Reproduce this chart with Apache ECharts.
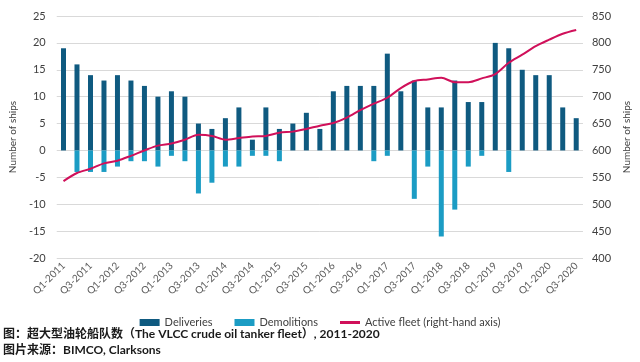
<!DOCTYPE html>
<html><head><meta charset="utf-8">
<script src="https://cdn.jsdelivr.net/npm/echarts@6/dist/echarts.min.js"></script>
<style>html,body{margin:0;padding:0;background:#fff}#c{width:640px;height:362px}</style>
</head><body><div id="c"></div>
<script>
const categories = [];
const years = [2011,2012,2013,2014,2015,2016,2017,2018,2019,2020];
for (const y of years) for (let q = 1; q <= 4; q++) { if (y === 2020 && q === 4) break; categories.push('Q' + q + '-' + y); }
const deliveries = [19,16,14,13,14,13,12,10,11,10,5,4,6,8,2,8,4,5,7,4,11,12,12,12,18,11,13,8,8,13,9,9,20,19,15,14,14,8,6];
const demolitions = [0,-4,-4,-4,-3,-2,-2,-3,-1,-2,-8,-6,-3,-3,-1,-1,-2,0,0,0,0,0,0,-2,-1,0,-9,-3,-16,-11,-3,-1,0,-4,0,0,0,0,0];
const activeFleet = [543,558,566,576,581,590,600,609,613,620,629,627,620,623,626,627,633,635,640,646,651,661,675,687,698,716,729,732,735,727,727,734,742,763,778,794,806,817,824];
const leftTicks = {min:-20, max:25, interval:5};
const rightTicks = {min:400, max:850, interval:50};

const font = 'Lato, "Noto Sans", sans-serif';
const chart = echarts.init(document.getElementById('c'), null, {renderer:'canvas'});
chart.setOption({
  animation:false,
  textStyle:{fontFamily:font},
  grid:{left:43, right:55, top:16, bottom:104, containLabel:false},
  legend:{
    top:312, left:'center', itemGap:22, itemWidth:20, itemHeight:7,
    textStyle:{fontSize:11, color:'#404040', fontFamily:font},
    data:[{name:'Deliveries', icon:'rect'},{name:'Demolitions', icon:'rect'},
          {name:'Active fleet (right-hand axis)', icon:'path://M0,0H20V3H0Z', itemStyle:{color:'#d0105a'}}]
  },
  xAxis:{
    type:'category', data:categories,
    axisLine:{show:false}, axisTick:{show:false},
    axisLabel:{interval:1, rotate:45, fontSize:10, color:'#595959', margin:6, fontFamily:font},
    splitLine:{show:false}
  },
  yAxis:[
    {type:'value', min:leftTicks.min, max:leftTicks.max, interval:leftTicks.interval,
     name:'Number of ships', nameLocation:'middle', nameGap:32, nameRotate:90,
     nameTextStyle:{fontSize:10, color:'#404040', fontFamily:font},
     axisLabel:{fontSize:11, color:'#404040', margin:11, fontFamily:font},
     axisLine:{show:false}, axisTick:{show:false},
     splitLine:{lineStyle:{color:'#d9d9d9', width:1}}},
    {type:'value', min:rightTicks.min, max:rightTicks.max, interval:rightTicks.interval,
     name:'Number of ships', nameLocation:'middle', nameGap:36, nameRotate:90,
     nameTextStyle:{fontSize:10, color:'#404040', fontFamily:font},
     axisLabel:{fontSize:11, color:'#404040', margin:9, fontFamily:font},
     axisLine:{show:false}, axisTick:{show:false},
     splitLine:{show:false}}
  ],
  series:[
    {name:'Deliveries', type:'bar', stack:'s', data:deliveries, barWidth:5, itemStyle:{color:'#0f5a80'}},
    {name:'Demolitions', type:'bar', stack:'s', data:demolitions, barWidth:5, itemStyle:{color:'#1b9cc4'}},
    {name:'Active fleet (right-hand axis)', type:'line', yAxisIndex:1, data:activeFleet, smooth:0.3,
     symbol:'none', lineStyle:{color:'#d0105a', width:2}, itemStyle:{color:'#d0105a'}}
  ],
  graphic:[
    {type:'text', left:3, top:328, style:{text:'图：超大型油轮船队数（The VLCC crude oil tanker fleet）, 2011-2020', font:'bold 12px Lato, "Noto Sans CJK SC", sans-serif', fill:'#1a1a1a'}},
    {type:'text', left:3, top:344, style:{text:'图片来源：BIMCO, Clarksons', font:'bold 12px Lato, "Noto Sans CJK SC", sans-serif', fill:'#1a1a1a'}}
  ]
});
</script></body></html>
